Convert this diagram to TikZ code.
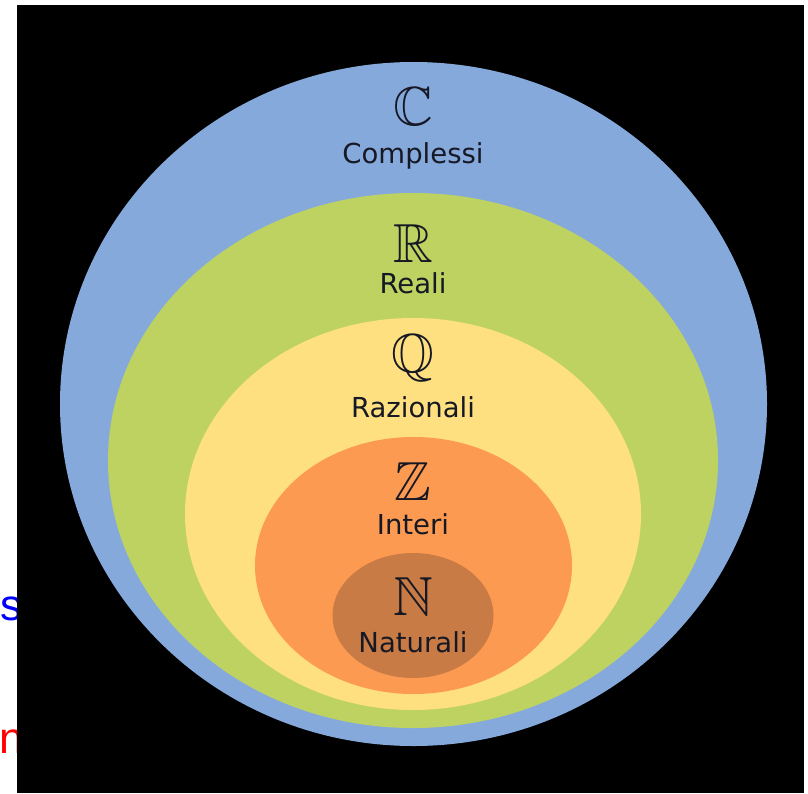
\documentclass[tikz,border=0pt]{standalone}
\usepackage{amssymb}
\usepackage{fontspec}
\setmainfont{DejaVu Sans}
\newfontfamily\arialfont{Liberation Sans}
\definecolor{cblue}{RGB}{134,169,220}
\definecolor{cgreen}{RGB}{190,210,98}
\definecolor{cyellow}{RGB}{254,224,128}
\definecolor{corange}{RGB}{253,154,82}
\definecolor{cbrown}{RGB}{201,123,70}
\definecolor{ctext}{RGB}{22,24,36}
\tikzset{
  setname/.style={font=\fontsize{27.5}{30}\selectfont, text=ctext, anchor=base, inner sep=0pt},
  setsym/.style={font=\fontsize{55}{60}\selectfont, text=ctext, anchor=base, inner sep=0pt},
  sidetxt/.style={font=\arialfont\fontsize{44}{48}\selectfont, anchor=base west, inner sep=0pt}
}
\begin{document}
\begin{tikzpicture}[x=1pt,y=-1pt]
\useasboundingbox (0,0) rectangle (808,793);
\clip (0,0) rectangle (808,793);
\fill[white] (0,0) rectangle (808,793);
\node[sidetxt, text={rgb,255:red,0;green,0;blue,255}] (sideS) at (0,620) {s};
\node[sidetxt, text={rgb,255:red,255;green,0;blue,0}] (sideN) at (-1,753) {n};
\fill[black] (17,5) rectangle (804,793);
\fill[cblue] (413.5,404) ellipse [x radius=353.5, y radius=342];
\fill[cgreen] (413,460.5) ellipse [x radius=305, y radius=267.5];
\fill[cyellow] (413,514) ellipse [x radius=228, y radius=196];
\fill[corange] (413.5,565.5) ellipse [x radius=158.5, y radius=128.5];
\fill[cbrown] (413,615.5) ellipse [x radius=80.5, y radius=62.5];
\node[setsym] (symC) at (413,125) {$\mathbb{C}$};
\node[setname] (txtC) at (413,163) {Complessi};
\node[setsym] (symR) at (413,262) {$\mathbb{R}$};
\node[setname] (txtR) at (413,293) {Reali};
\node[setsym] (symQ) at (413,372) {$\mathbb{Q}$};
\node[setname] (txtQ) at (413,417) {Razionali};
\node[setsym] (symZ) at (413,500) {$\mathbb{Z}$};
\node[setname] (txtZ) at (413,534) {Interi};
\node[setsym] (symN) at (413,615) {$\mathbb{N}$};
\node[setname] (txtN) at (413,652) {Naturali};
\end{tikzpicture}
\end{document}
